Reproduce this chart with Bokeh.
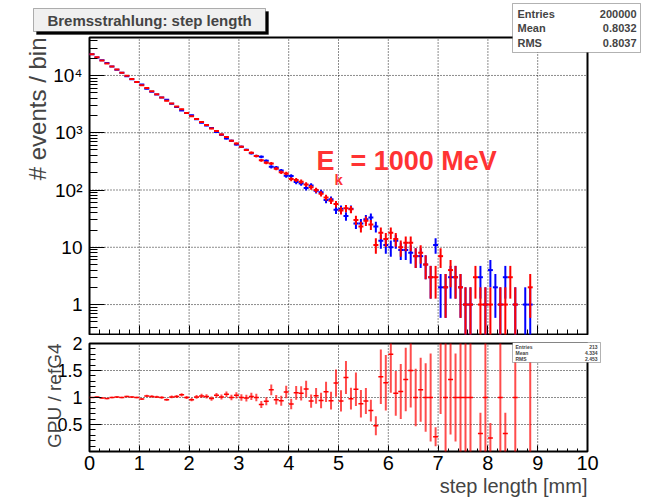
import math
from bokeh.plotting import figure
from bokeh.layouts import column
from bokeh.models import Range1d, FixedTicker, Label, BoxAnnotation, ColumnDataSource
from bokeh.embed import file_html
from bokeh.resources import INLINE

# ---------------- data ----------------
bin_low_edge = 0.0
bin_width = 0.1

# GPU histogram (red), counts per 0.1 mm bin, bins 0.0-0.1 ... 8.9-9.0
gpu_counts = [
    23400, 20700, 18250, 16100, 14300, 12650, 11100, 9850, 8700, 7650,
    6750, 6020, 5300, 4690, 4120, 3620, 3240, 2870, 2560, 2220,
    1940, 1740, 1545, 1360, 1190, 1070, 935, 840, 725, 650,
    568, 500, 448, 392, 330, 300, 290, 236, 205, 195,
    155, 150, 140, 125, 112, 100, 86, 74, 65, 57,
    44, 48, 46, 30, 23, 29, 25, 11, 18, 14,
    18, 14, 10, 12, 12, 7, 8, 5, 3, 3,
    7, 2, 4, 3, 2, 1, 1, 3, 1, 1,
    1, 0, 1, 1, 3, 1, 0, 0, 2, 0,
]
# reference Geant4 histogram (blue)
refg4_counts = [
    23400, 20495, 18434, 16429, 14300, 12525, 11100, 9657, 8614, 7650,
    6959, 5845, 5196, 4644, 4120, 3771, 3208, 2814, 2438, 2220,
    2021, 1723, 1500, 1333, 1214, 1029, 926, 792, 725, 625,
    568, 505, 439, 392, 379, 323, 254, 246, 218, 177,
    176, 138, 130, 108, 120, 97, 91, 67, 69, 45,
    47, 35, 47, 26, 26, 31, 33, 23, 13, 11,
    10, 13, 9, 9, 8, 7, 7, 5, 3, 11,
    2, 2, 3, 3, 2, 1, 1, 0, 3, 1,
    4, 2, 1, 3, 0, 1, 0, 1, 1, 0,
]

x_ticks = [0, 1, 2, 3, 4, 5, 6, 7, 8, 9, 10]
y_ticks = [1, 10, 100, 1000, 10000]
y_tick_labels = ["1", "10", "10\u00b2", "10\u00b3", "10\u2074"]
ratio_ticks = [0.5, 1.0, 1.5, 2.0]
ratio_tick_labels = ["0.5", "1", "1.5", "2"]

title_text = "Bremsstrahlung: step length"
stat_names = ["Entries", "Mean", "RMS"]
stat_values = ["200000", "0.8032", "0.8037"]
ratio_stat_values = ["213", "4.334", "2.453"]
energy_text = "E"
energy_sub = "k"
energy_rest = "= 1000 MeV"
x_title = "step length [mm]"
y_title = "# events / bin"
ratio_title = "GPU / refG4"

# ---------------- layout constants ----------------
FONT = "Liberation Sans"
W = 646
H1, H2 = 335, 163
FL, FR = 89, 587          # frame left / right (canvas px)
F1T, F1B = 37, 334        # upper frame top / bottom
F2T, F2B = 343, 451       # lower frame top / bottom (global px)
X0, X1 = 0.0, 10.0
Y1LO, Y1HI = 0.3, 46000.0
Y2LO, Y2HI = 0.0, 2.0
RED = "#ff0000"
BLUE = "#0000ff"
TXT_RED = "#ff3333"

# the whole canvas is the plotting frame; the ROOT-like pads are drawn inside it
xs = (FR - FL) / (X1 - X0)
x_range = Range1d(X0 - FL / xs, X1 + (W - FR) / xs)
dec = (F1B - F1T) / math.log10(Y1HI / Y1LO)
y1_range = Range1d(10 ** (math.log10(Y1LO) - (H1 - F1B) / dec),
                   10 ** (math.log10(Y1HI) + F1T / dec))
ys2 = (F2B - F2T) / (Y2HI - Y2LO)
y2_range = Range1d(Y2LO - (H1 + H2 - F2B) / ys2, Y2HI + (F2T - H1) / ys2)

centers = [bin_low_edge + bin_width * (i + 0.5) for i in range(len(gpu_counts))]


def make_fig(h, yr, ytype):
    p = figure(width=W, height=h, x_range=x_range, y_range=yr, y_axis_type=ytype,
               output_backend="svg", toolbar_location=None,
               min_border=0, min_border_left=0, min_border_right=0,
               min_border_top=0, min_border_bottom=0)
    p.outline_line_color = None
    p.background_fill_color = "white"
    p.border_fill_color = "white"
    p.xgrid.visible = False
    p.ygrid.visible = False
    for ax in p.axis:
        ax.axis_line_color = None
        ax.major_tick_line_color = "black"
        ax.minor_tick_line_color = "black"
        ax.major_tick_out = 0
        ax.minor_tick_out = 0
        ax.major_label_text_font = FONT
        ax.major_label_text_color = "black"
    return p


def pad_frame(p, ylo, yhi, yvals):
    # dotted grid at the major ticks, then the frame box
    gx = [t for t in x_ticks if X0 < t < X1]
    p.segment(x0=gx, y0=[ylo] * len(gx), x1=gx, y1=[yhi] * len(gx),
              line_color="black", line_dash="1 2", line_width=1, line_alpha=0.9)
    gy = [t for t in yvals if ylo < t < yhi]
    p.segment(x0=[X0] * len(gy), y0=gy, x1=[X1] * len(gy), y1=gy,
              line_color="black", line_dash="1 2", line_width=1, line_alpha=0.9)
    p.quad(left=[X0], right=[X1], bottom=[ylo], top=[yhi], fill_color=None,
           line_color="black", line_width=2)


# ---------------- upper pad ----------------
p1 = make_fig(H1, y1_range, "log")
x_minor = [i * 0.2 for i in range(51) if i % 5 != 0]
p1.xaxis.ticker = FixedTicker(ticks=x_ticks, minor_ticks=x_minor)
p1.xaxis.fixed_location = Y1LO
p1.xaxis.bounds = (X0, X1)
p1.xaxis.major_label_overrides = {t: "" for t in x_ticks}
p1.xaxis.major_tick_in = 9
p1.xaxis.minor_tick_in = 5
y_minor = []
for d in [0.1, 1, 10, 100, 1000, 10000]:
    for k in range(2, 10):
        v = k * d
        if Y1LO <= v <= Y1HI:
            y_minor.append(v)
p1.yaxis.ticker = FixedTicker(ticks=y_ticks, minor_ticks=y_minor)
p1.yaxis.fixed_location = X0
p1.yaxis.bounds = (Y1LO, Y1HI)
p1.yaxis.major_label_overrides = {t: l for t, l in zip(y_ticks, y_tick_labels)}
p1.yaxis.major_label_text_font_size = "19px"
p1.yaxis.major_label_standoff = 7
p1.yaxis.major_tick_in = 15
p1.yaxis.minor_tick_in = 8

pad_frame(p1, Y1LO, Y1HI, y_ticks)

for counts, col in ((refg4_counts, BLUE), (gpu_counts, RED)):
    hx0, hx1, hy, vx, vy0, vy1 = [], [], [], [], [], []
    for c, n in zip(centers, counts):
        if n <= 0:
            continue
        e = math.sqrt(n)
        hx0.append(c - bin_width / 2); hx1.append(c + bin_width / 2); hy.append(n)
        vx.append(c); vy0.append(max(n - e, Y1LO)); vy1.append(min(n + e, Y1HI))
    p1.segment(x0="x", y0="y0", x1="x", y1="y1",
               source=ColumnDataSource(dict(x=vx, y0=vy0, y1=vy1)),
               line_color=col, line_width=2)
    p1.segment(x0="x0", y0="y", x1="x1", y1="y",
               source=ColumnDataSource(dict(x0=hx0, x1=hx1, y=hy)),
               line_color=col, line_width=2)


def lab1(text, cx, cy, **kw):
    p1.add_layout(Label(x=cx, y=H1 - cy, x_units="screen", y_units="screen",
                        text=text, text_font=FONT, **kw))


def box1(l, r, t, b, **kw):
    p1.add_layout(BoxAnnotation(left=l, right=r, top=H1 - t, bottom=H1 - b,
                                left_units="screen", right_units="screen",
                                top_units="screen", bottom_units="screen", **kw))


# title box with shadow
box1(36, 268, 11, 34, fill_color="black", fill_alpha=1, line_color="black")
box1(33, 265, 8, 31, fill_color="#f0f0f0", fill_alpha=1, line_color="black", line_width=1)
lab1(title_text, 149, 20, text_font_size="15px", text_font_style="bold",
     text_align="center", text_baseline="middle")

# stats box
box1(512, 640, 3, 52, fill_color="white", fill_alpha=1, line_color="black", line_width=1)
for i, (n, v) in enumerate(zip(stat_names, stat_values)):
    yy = 13 + 14.5 * i
    lab1(n, 517, yy, text_font_size="11px", text_font_style="bold", text_baseline="middle")
    lab1(v, 636, yy, text_font_size="11px", text_font_style="bold", text_baseline="middle",
         text_align="right")

# energy label
lab1(energy_text, 316, 175, text_font_size="27px", text_font_style="bold", text_color=TXT_RED)
lab1(energy_sub, 334, 187, text_font_size="15px", text_font_style="bold", text_color=TXT_RED)
lab1(energy_rest, 350, 175, text_font_size="27px", text_font_style="bold", text_color=TXT_RED)

# y title
lab1(y_title, 37, F1T, text_font_size="24px", angle=math.pi / 2, text_align="right",
     text_baseline="alphabetic")

# ---------------- lower pad ----------------
p2 = make_fig(H2, y2_range, "linear")
p2.xaxis.ticker = FixedTicker(ticks=x_ticks, minor_ticks=x_minor)
p2.xaxis.fixed_location = Y2LO
p2.xaxis.bounds = (X0, X1)
p2.xaxis.major_label_text_font_size = "20px"
p2.xaxis.major_label_standoff = 4
p2.xaxis.major_tick_in = 6
p2.xaxis.minor_tick_in = 3
r_minor = [i * 0.1 for i in range(21) if i % 5 != 0]
p2.yaxis.ticker = FixedTicker(ticks=ratio_ticks, minor_ticks=r_minor)
p2.yaxis.fixed_location = X0
p2.yaxis.bounds = (Y2LO, Y2HI)
p2.yaxis.major_label_overrides = {t: l for t, l in zip(ratio_ticks, ratio_tick_labels)}
p2.yaxis.major_label_text_font_size = "18px"
p2.yaxis.major_label_standoff = 7
p2.yaxis.major_tick_in = 12
p2.yaxis.minor_tick_in = 6

pad_frame(p2, Y2LO, Y2HI, ratio_ticks)

rx0, rx1, ry, vx, vy0, vy1 = [], [], [], [], [], []
for c, g, r in zip(centers, gpu_counts, refg4_counts):
    if g > 0 and r > 0:
        q = g / r
        e = q * math.sqrt(1.0 / g + 1.0 / r)
        lo, hi = max(q - e, Y2LO), min(q + e, Y2HI)
        if lo < hi:
            vx.append(c); vy0.append(lo); vy1.append(hi)
        if Y2LO <= q <= Y2HI:
            rx0.append(c - bin_width / 2); rx1.append(c + bin_width / 2); ry.append(q)
p2.segment(x0="x", y0="y0", x1="x", y1="y1",
           source=ColumnDataSource(dict(x=vx, y0=vy0, y1=vy1)),
           line_color=RED, line_width=2, line_alpha=0.7)
p2.segment(x0="x0", y0="y", x1="x1", y1="y",
           source=ColumnDataSource(dict(x0=rx0, x1=rx1, y=ry)),
           line_color=RED, line_width=1.5)


def lab2(text, cx, cy, **kw):
    p2.add_layout(Label(x=cx, y=H1 + H2 - cy, x_units="screen", y_units="screen",
                        text=text, text_font=FONT, **kw))


def box2(l, r, t, b, **kw):
    p2.add_layout(BoxAnnotation(left=l, right=r, top=H1 + H2 - t, bottom=H1 + H2 - b,
                                left_units="screen", right_units="screen",
                                top_units="screen", bottom_units="screen", **kw))


box2(512, 600, 342, 362, fill_color="white", fill_alpha=1, line_color="black", line_width=1)
for i, (n, v) in enumerate(zip(stat_names, ratio_stat_values)):
    yy = 346 + 6 * i
    lab2(n, 515, yy, text_font_size="5px", text_font_style="bold", text_baseline="middle")
    lab2(v, 597, yy, text_font_size="5px", text_font_style="bold", text_baseline="middle",
         text_align="right")

lab2(x_title, FR, 485, text_font_size="20px", text_align="right", text_baseline="alphabetic")
lab2(ratio_title, 54, F2T, text_font_size="19px", angle=math.pi / 2, text_align="right",
     text_baseline="alphabetic")

layout = column(p1, p2, spacing=0)
open("out.html", "w").write(file_html(layout, INLINE))
